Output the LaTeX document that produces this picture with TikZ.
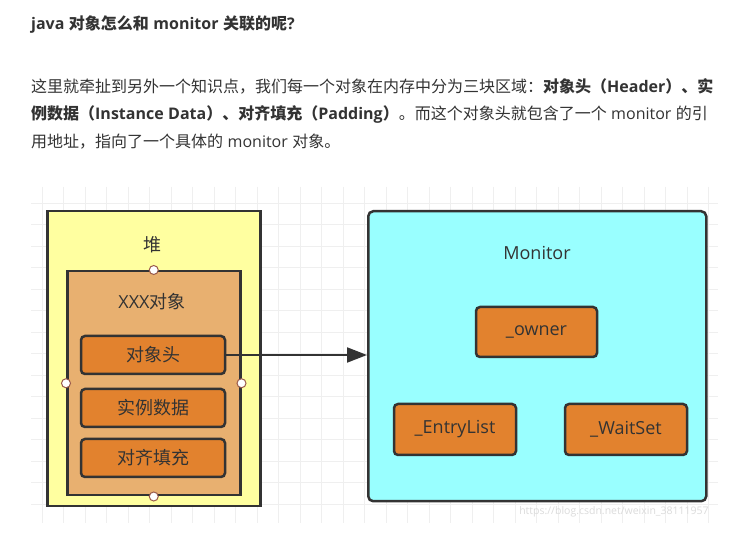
\documentclass[tikz,border=0pt]{standalone}
\usepackage{fontspec}
\setmainfont{Noto Sans CJK SC}
\newfontfamily\lat{Open Sans}
\usetikzlibrary{arrows.meta}
\XeTeXlinebreaklocale "zh"
\XeTeXlinebreakskip=0pt plus 3pt
\newcommand\ksp{\kern0.28em}
\definecolor{txt}{HTML}{333333}
\definecolor{gridc}{HTML}{EFEFEF}
\definecolor{heapc}{HTML}{FFFFA0}
\definecolor{objc}{HTML}{E8B070}
\definecolor{fieldc}{HTML}{E2822E}
\definecolor{monc}{HTML}{99FFFF}
\definecolor{bord}{HTML}{333333}
\definecolor{circb}{HTML}{9A5A4A}
\tikzset{
  plainbox/.style={draw=bord, line width=2.5pt, inner sep=0pt, anchor=north west},
  fieldbox/.style={draw=bord, fill=fieldc, line width=2.5pt, rounded corners=4pt, inner sep=0pt,
     font=\fontsize{18}{22}\selectfont, text=txt},
  lbl/.style={font=\fontsize{18}{22}\selectfont, text=txt, inner sep=0pt},
  handle/.style={circle, draw=circb, fill=white, line width=1pt, minimum size=9pt, inner sep=0pt},
  para/.style={font=\fontsize{16}{20}\selectfont, text=txt, inner sep=0pt, anchor=west}
}
\begin{document}
\begin{tikzpicture}[x=1pt,y=-1pt]
\useasboundingbox (0,0) rectangle (756,545);
\fill[white] (0,0) rectangle (756,545);
% text
\node[para] (title) at (31,25) {\bfseries {\lat java}\ksp 对象怎么和\ksp{\lat monitor}\ksp 关联的呢{\lat ?}};
\node[para] (l1) at (31,86) {\hbox to 687pt{这里就牵扯到另外一个知识点，我们每一个对象在内存中分为三块区域：{\bfseries 对象头（{\lat Header}）、实}}};
\node[para] (l2) at (31,114) {\hbox to 687pt{{\bfseries 例数据（{\lat Instance\ksp Data}）、对齐填充（{\lat Padding}）}。而这个对象头就包含了一个\ksp{\lat monitor}\ksp 的引}};
\node[para] (l3) at (31,142) {用地址，指向了一个具体的\ksp{\lat monitor}\ksp 对象。};
% grid
\foreach \i in {0,...,31} \draw[gridc, line width=0.8pt] ({42+21.5*\i},187) -- ({42+21.5*\i},523);
\foreach \j in {0,...,14} \draw[gridc, line width=0.8pt] (31,{203+21.5*\j}) -- (718,{203+21.5*\j});
% heap
\node[plainbox, fill=heapc, minimum width=213pt, minimum height=295pt] (heap) at (46,210) {};
\node[lbl] (heaplbl) at (152,245) {堆};
\node[plainbox, fill=objc, minimum width=173pt, minimum height=224pt] (obj) at (66,270) {};
\node[lbl] (objlbl) at (152,302) {{\lat XXX}对象};
\node[fieldbox, minimum width=144pt, minimum height=38pt] (hdr) at (153,355) {对象头};
\node[fieldbox, minimum width=144pt, minimum height=38pt] (inst) at (153,408) {实例数据};
\node[fieldbox, minimum width=144pt, minimum height=38pt] (pad) at (153,458) {对齐填充};
\node[handle] (hn) at (obj.north) {};
\node[handle] (hs) at (obj.south) {};
\node[handle] (hw) at (obj.west) {};
\node[handle] (he) at (obj.east) {};
% monitor
\node[plainbox, fill=monc, rounded corners=5pt, minimum width=338pt, minimum height=290pt] (mon) at (367,210) {};
\node[lbl] (monlbl) at (537,253) {\lat Monitor};
\node[fieldbox, minimum width=121pt, minimum height=50pt] (owner) at (536.5,332) {\lat \_owner};
\node[fieldbox, minimum width=122pt, minimum height=51pt] (entry) at (455,429.5) {\lat \_EntryList};
\node[fieldbox, minimum width=122pt, minimum height=51pt] (wait) at (626,429.5) {\lat \_WaitSet};
% arrow
\draw[bord, line width=2pt, -{Triangle[length=20pt,width=15pt]}] (hdr.east) -- (mon.west |- hdr.east);
% watermark
\node[inner sep=0pt, text=black!14, font=\fontsize{10.5}{12}\selectfont\lat] (wm) at (614,512) {https://blog.csdn.net/weixin\_38111957};
\end{tikzpicture}
\end{document}
